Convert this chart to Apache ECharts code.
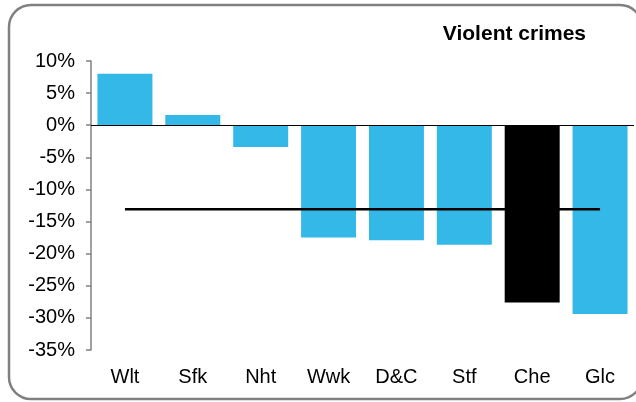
<!DOCTYPE html>
<html>
<head>
<meta charset="utf-8">
<script src="https://cdn.jsdelivr.net/npm/echarts@6/dist/echarts.min.js"></script>
<style>
html,body{margin:0;padding:0;background:#fff;}
#chart{width:636px;height:402px;}
</style>
</head>
<body>
<div id="chart"></div>
<script>
const categories = ['Wlt', 'Sfk', 'Nht', 'Wwk', 'D&C', 'Stf', 'Che', 'Glc'];
const changeValues = [8.0, 1.6, -3.4, -17.5, -17.9, -18.6, -27.6, -29.4];
const averageValues = [-13.1, -13.1, -13.1, -13.1, -13.1, -13.1, -13.1, -13.1];
const highlightCategory = 'Che';
const yTicks = { min: -35, max: 10, interval: 5 };

const FONT = '"Liberation Sans", Arial, sans-serif';
const chart = echarts.init(document.getElementById('chart'), null, { renderer: 'canvas' });

chart.setOption({
  animation: false,
  backgroundColor: '#fff',
  title: {
    text: 'Violent crimes',
    right: 50,
    top: 24,
    padding: 0,
    textStyle: { fontFamily: FONT, fontSize: 21, fontWeight: 'bold', color: '#000' }
  },
  graphic: [{
    type: 'rect',
    shape: { x: 9, y: 5, width: 633, height: 394, r: 22 },
    style: { fill: 'none', stroke: '#808080', lineWidth: 2.5 },
    silent: true,
    z: -10
  }],
  grid: { left: 91, right: 2, top: 61, bottom: 52, containLabel: false },
  xAxis: {
    type: 'category',
    data: categories,
    axisLine: { show: false },
    axisTick: { show: false },
    axisLabel: { color: '#000', fontFamily: FONT, fontSize: 20, margin: 17 },
    splitLine: { show: false }
  },
  yAxis: {
    type: 'value',
    min: yTicks.min,
    max: yTicks.max,
    interval: yTicks.interval,
    axisLine: { show: true, lineStyle: { color: '#808080', width: 1.5 } },
    axisTick: { show: true, length: 5, lineStyle: { color: '#808080', width: 1.5 } },
    axisLabel: { color: '#000', fontFamily: FONT, fontSize: 20, margin: 16, formatter: '{value}%' },
    splitLine: { show: false }
  },
  series: [
    {
      type: 'bar',
      data: changeValues.map((v, i) => ({
        value: v,
        itemStyle: { color: categories[i] === highlightCategory ? '#000000' : '#33B8E8' }
      })),
      barCategoryGap: '19%',
      markLine: {
        silent: true,
        symbol: 'none',
        label: { show: false },
        lineStyle: { color: '#000', width: 1.2, type: 'solid' },
        data: [{ yAxis: 0 }]
      },
      z: 2
    },
    {
      type: 'line',
      data: averageValues,
      symbol: 'none',
      lineStyle: { color: '#000', width: 2.5 },
      z: 3
    }
  ]
});
</script>
</body>
</html>
